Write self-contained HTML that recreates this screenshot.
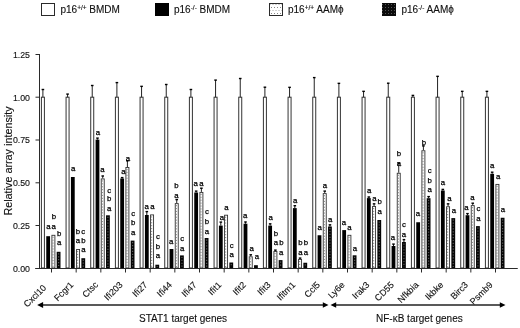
<!DOCTYPE html>
<html><head><meta charset="utf-8"><style>
html,body{margin:0;padding:0;background:#fff;}
svg{display:block;filter:blur(0.3px);}
text{font-family:"Liberation Sans",sans-serif;fill:#111;stroke:#111;stroke-width:0.12px;}
.L{fill:#000;stroke:#000;stroke-width:0.25px;}
</style></head><body>
<svg width="520" height="328" viewBox="0 0 520 328">
<defs>
<pattern id="pl" width="3" height="3" patternUnits="userSpaceOnUse">
<rect width="3" height="3" fill="#f2f2f2"/><rect x="0" y="0" width="1" height="1" fill="#7a7a7a"/><rect x="1.5" y="1.5" width="1" height="1" fill="#7a7a7a"/>
</pattern>
<pattern id="plg" x="0" y="0" width="3" height="6" patternUnits="userSpaceOnUse">
<rect width="3" height="6" fill="#fff"/><rect x="1" y="1" width="1" height="1" fill="#888"/><rect x="2.5" y="4" width="1" height="1" fill="#aaa"/><rect x="-0.5" y="4" width="1" height="1" fill="#aaa"/>
</pattern>
<pattern id="pd" width="3" height="3" patternUnits="userSpaceOnUse">
<rect width="3" height="3" fill="#0a0a0a"/><rect x="1" y="1" width="1" height="1" fill="#555"/>
</pattern>
</defs>
<rect width="520" height="328" fill="#fff"/>

<rect x="41.5" y="3.5" width="13" height="12" fill="#fff" stroke="#2a2a2a" stroke-width="1"/>
<rect x="155" y="3" width="14" height="13" fill="#000"/>
<rect x="269.5" y="3.5" width="13" height="12" fill="url(#plg)" stroke="#2a2a2a" stroke-width="1"/>
<rect x="382" y="3" width="14" height="13" fill="url(#pd)"/>
<text x="60.5" y="12.5" font-size="10">p16<tspan font-size="6.5" dy="-3.0">+/+</tspan><tspan dy="3.0"> BMDM</tspan></text>
<text x="174" y="12.5" font-size="10">p16<tspan font-size="6.5" dy="-3.0">-/-</tspan><tspan dy="3.0"> BMDM</tspan></text>
<text x="288" y="12.5" font-size="10">p16<tspan font-size="6.5" dy="-3.0">+/+</tspan><tspan dy="3.0"> AAMϕ</tspan></text>
<text x="401.5" y="12.5" font-size="10">p16<tspan font-size="6.5" dy="-3.0">-/-</tspan><tspan dy="3.0"> AAMϕ</tspan></text>
<path d="M39.5 54 V268.5 M517.5 268.5 H35.5" stroke="#2a2a2a" stroke-width="1" fill="none"/>
<path d="M35.5 268.5 H39.5" stroke="#2a2a2a" stroke-width="1"/>
<text x="30" y="271.7" font-size="8.8" text-anchor="end">0.00</text>
<path d="M35.5 225.5 H39.5" stroke="#2a2a2a" stroke-width="1"/>
<text x="30" y="228.9" font-size="8.8" text-anchor="end">0.25</text>
<path d="M35.5 182.8 H39.5" stroke="#2a2a2a" stroke-width="1"/>
<text x="30" y="186.1" font-size="8.8" text-anchor="end">0.50</text>
<path d="M35.5 140.0 H39.5" stroke="#2a2a2a" stroke-width="1"/>
<text x="30" y="143.3" font-size="8.8" text-anchor="end">0.75</text>
<path d="M35.5 97.2 H39.5" stroke="#2a2a2a" stroke-width="1"/>
<text x="30" y="100.5" font-size="8.8" text-anchor="end">1.00</text>
<path d="M35.5 54.5 H39.5" stroke="#2a2a2a" stroke-width="1"/>
<text x="30" y="57.7" font-size="8.8" text-anchor="end">1.25</text>
<text transform="translate(12.4,161) rotate(-90)" font-size="10.8" text-anchor="middle">Relative array intensity</text>
<path d="M51.50 268.5 V272.5" stroke="#2a2a2a" stroke-width="1"/>
<rect x="41.40" y="97.20" width="3" height="170.80" fill="#fff" stroke="#333" stroke-width="1"/>
<path d="M42.90 97.20 V89.40" stroke="#222" stroke-width="1"/><path d="M41.60 89.50 H44.20" stroke="#000" stroke-width="1.4"/>
<rect x="46.25" y="236.20" width="3.8" height="31.80" fill="#000"/>
<rect x="51.90" y="235.30" width="3" height="32.70" fill="#fcfcfc" stroke="#333" stroke-width="0.9"/>
<path d="M53.00 236.80 V268" stroke="#707070" stroke-width="0.9" stroke-dasharray="1.1 1.8"/>
<rect x="56.70" y="251.80" width="3.8" height="16.20" fill="#050505"/>
<path d="M58.60 253.30 V267" stroke="#5a5a5a" stroke-width="1.2" stroke-dasharray="1.2 1.7"/>
<path d="M76.17 268.5 V272.5" stroke="#2a2a2a" stroke-width="1"/>
<rect x="66.07" y="97.20" width="3" height="170.80" fill="#fff" stroke="#333" stroke-width="1"/>
<path d="M67.57 97.20 V94.00" stroke="#222" stroke-width="1"/><path d="M66.27 94.10 H68.87" stroke="#000" stroke-width="1.4"/>
<rect x="70.92" y="177.00" width="3.8" height="91.00" fill="#000"/>
<rect x="76.57" y="249.50" width="3" height="18.50" fill="#fcfcfc" stroke="#333" stroke-width="0.9"/>
<path d="M77.67 251.00 V268" stroke="#707070" stroke-width="0.9" stroke-dasharray="1.1 1.8"/>
<rect x="81.37" y="258.20" width="3.8" height="9.80" fill="#050505"/>
<path d="M83.27 259.70 V267" stroke="#5a5a5a" stroke-width="1.2" stroke-dasharray="1.2 1.7"/>
<path d="M100.83 268.5 V272.5" stroke="#2a2a2a" stroke-width="1"/>
<rect x="90.73" y="97.20" width="3" height="170.80" fill="#fff" stroke="#333" stroke-width="1"/>
<path d="M92.23 97.20 V85.40" stroke="#222" stroke-width="1"/><path d="M90.93 85.50 H93.53" stroke="#000" stroke-width="1.4"/>
<path d="M97.48 139.60 V138.00" stroke="#111" stroke-width="1"/><path d="M96.18 138.10 H98.78" stroke="#000" stroke-width="1.4"/>
<rect x="95.58" y="139.60" width="3.8" height="128.40" fill="#000"/>
<path d="M102.73 178.40 V175.90" stroke="#222" stroke-width="1"/><path d="M101.43 176.00 H104.03" stroke="#000" stroke-width="1.4"/>
<rect x="101.23" y="178.90" width="3" height="89.10" fill="#fcfcfc" stroke="#333" stroke-width="0.9"/>
<path d="M102.33 180.40 V268" stroke="#707070" stroke-width="0.9" stroke-dasharray="1.1 1.8"/>
<rect x="106.03" y="215.30" width="3.8" height="52.70" fill="#050505"/>
<path d="M107.93 216.80 V267" stroke="#5a5a5a" stroke-width="1.2" stroke-dasharray="1.2 1.7"/>
<path d="M125.50 268.5 V272.5" stroke="#2a2a2a" stroke-width="1"/>
<rect x="115.40" y="97.20" width="3" height="170.80" fill="#fff" stroke="#333" stroke-width="1"/>
<path d="M116.90 97.20 V82.50" stroke="#222" stroke-width="1"/><path d="M115.60 82.60 H118.20" stroke="#000" stroke-width="1.4"/>
<path d="M122.15 178.50 V177.50" stroke="#111" stroke-width="1"/><path d="M120.85 177.60 H123.45" stroke="#000" stroke-width="1.4"/>
<rect x="120.25" y="178.50" width="3.8" height="89.50" fill="#000"/>
<path d="M127.40 167.00 V160.70" stroke="#222" stroke-width="1"/><path d="M126.10 160.80 H128.70" stroke="#000" stroke-width="1.4"/>
<rect x="125.90" y="167.50" width="3" height="100.50" fill="#fcfcfc" stroke="#333" stroke-width="0.9"/>
<path d="M127.00 169.00 V268" stroke="#707070" stroke-width="0.9" stroke-dasharray="1.1 1.8"/>
<rect x="130.70" y="240.60" width="3.8" height="27.40" fill="#050505"/>
<path d="M132.60 242.10 V267" stroke="#5a5a5a" stroke-width="1.2" stroke-dasharray="1.2 1.7"/>
<path d="M150.17 268.5 V272.5" stroke="#2a2a2a" stroke-width="1"/>
<rect x="140.07" y="97.20" width="3" height="170.80" fill="#fff" stroke="#333" stroke-width="1"/>
<path d="M141.57 97.20 V86.25" stroke="#222" stroke-width="1"/><path d="M140.27 86.35 H142.87" stroke="#000" stroke-width="1.4"/>
<path d="M146.82 215.00 V211.50" stroke="#111" stroke-width="1"/><path d="M145.52 211.60 H148.12" stroke="#000" stroke-width="1.4"/>
<rect x="144.92" y="215.00" width="3.8" height="53.00" fill="#000"/>
<rect x="150.57" y="214.90" width="3" height="53.10" fill="#fcfcfc" stroke="#333" stroke-width="0.9"/>
<path d="M151.67 216.40 V268" stroke="#707070" stroke-width="0.9" stroke-dasharray="1.1 1.8"/>
<rect x="155.37" y="264.70" width="3.8" height="3.30" fill="#050505"/>
<path d="M157.27 266.20 V267" stroke="#5a5a5a" stroke-width="1.2" stroke-dasharray="1.2 1.7"/>
<path d="M174.84 268.5 V272.5" stroke="#2a2a2a" stroke-width="1"/>
<rect x="164.74" y="97.20" width="3" height="170.80" fill="#fff" stroke="#333" stroke-width="1"/>
<path d="M166.24 97.20 V84.40" stroke="#222" stroke-width="1"/><path d="M164.94 84.50 H167.54" stroke="#000" stroke-width="1.4"/>
<rect x="169.59" y="249.00" width="3.8" height="19.00" fill="#000"/>
<path d="M176.74 203.10 V199.50" stroke="#222" stroke-width="1"/><path d="M175.44 199.60 H178.04" stroke="#000" stroke-width="1.4"/>
<rect x="175.24" y="203.60" width="3" height="64.40" fill="#fcfcfc" stroke="#333" stroke-width="0.9"/>
<path d="M176.34 205.10 V268" stroke="#707070" stroke-width="0.9" stroke-dasharray="1.1 1.8"/>
<rect x="180.03" y="255.40" width="3.8" height="12.60" fill="#050505"/>
<path d="M181.94 256.90 V267" stroke="#5a5a5a" stroke-width="1.2" stroke-dasharray="1.2 1.7"/>
<path d="M199.50 268.5 V272.5" stroke="#2a2a2a" stroke-width="1"/>
<rect x="189.40" y="97.20" width="3" height="170.80" fill="#fff" stroke="#333" stroke-width="1"/>
<path d="M190.90 97.20 V89.40" stroke="#222" stroke-width="1"/><path d="M189.60 89.50 H192.20" stroke="#000" stroke-width="1.4"/>
<path d="M196.15 192.50 V191.00" stroke="#111" stroke-width="1"/><path d="M194.85 191.10 H197.45" stroke="#000" stroke-width="1.4"/>
<rect x="194.25" y="192.50" width="3.8" height="75.50" fill="#000"/>
<path d="M201.40 191.90 V188.10" stroke="#222" stroke-width="1"/><path d="M200.10 188.20 H202.70" stroke="#000" stroke-width="1.4"/>
<rect x="199.90" y="192.40" width="3" height="75.60" fill="#fcfcfc" stroke="#333" stroke-width="0.9"/>
<path d="M201.00 193.90 V268" stroke="#707070" stroke-width="0.9" stroke-dasharray="1.1 1.8"/>
<rect x="204.70" y="238.00" width="3.8" height="30.00" fill="#050505"/>
<path d="M206.60 239.50 V267" stroke="#5a5a5a" stroke-width="1.2" stroke-dasharray="1.2 1.7"/>
<path d="M224.17 268.5 V272.5" stroke="#2a2a2a" stroke-width="1"/>
<rect x="214.07" y="97.20" width="3" height="170.80" fill="#fff" stroke="#333" stroke-width="1"/>
<path d="M215.57 97.20 V80.00" stroke="#222" stroke-width="1"/><path d="M214.27 80.10 H216.87" stroke="#000" stroke-width="1.4"/>
<path d="M220.82 225.60 V222.00" stroke="#111" stroke-width="1"/><path d="M219.52 222.10 H222.12" stroke="#000" stroke-width="1.4"/>
<rect x="218.92" y="225.60" width="3.8" height="42.40" fill="#000"/>
<rect x="224.57" y="215.20" width="3" height="52.80" fill="#fcfcfc" stroke="#333" stroke-width="0.9"/>
<path d="M225.67 216.70 V268" stroke="#707070" stroke-width="0.9" stroke-dasharray="1.1 1.8"/>
<rect x="229.37" y="262.50" width="3.8" height="5.50" fill="#050505"/>
<path d="M231.27 264.00 V267" stroke="#5a5a5a" stroke-width="1.2" stroke-dasharray="1.2 1.7"/>
<path d="M248.84 268.5 V272.5" stroke="#2a2a2a" stroke-width="1"/>
<rect x="238.74" y="97.20" width="3" height="170.80" fill="#fff" stroke="#333" stroke-width="1"/>
<path d="M240.24 97.20 V78.40" stroke="#222" stroke-width="1"/><path d="M238.94 78.50 H241.54" stroke="#000" stroke-width="1.4"/>
<path d="M245.49 223.70 V221.90" stroke="#111" stroke-width="1"/><path d="M244.19 222.00 H246.79" stroke="#000" stroke-width="1.4"/>
<rect x="243.59" y="223.70" width="3.8" height="44.30" fill="#000"/>
<path d="M250.74 256.30 V254.70" stroke="#222" stroke-width="1"/><path d="M249.44 254.80 H252.04" stroke="#000" stroke-width="1.4"/>
<rect x="249.24" y="256.80" width="3" height="11.20" fill="#fcfcfc" stroke="#333" stroke-width="0.9"/>
<path d="M250.34 258.30 V268" stroke="#707070" stroke-width="0.9" stroke-dasharray="1.1 1.8"/>
<rect x="254.04" y="265.20" width="3.8" height="2.80" fill="#050505"/>
<path d="M273.50 268.5 V272.5" stroke="#2a2a2a" stroke-width="1"/>
<rect x="263.40" y="97.20" width="3" height="170.80" fill="#fff" stroke="#333" stroke-width="1"/>
<path d="M264.90 97.20 V87.10" stroke="#222" stroke-width="1"/><path d="M263.60 87.20 H266.20" stroke="#000" stroke-width="1.4"/>
<path d="M270.15 225.60 V223.75" stroke="#111" stroke-width="1"/><path d="M268.85 223.85 H271.45" stroke="#000" stroke-width="1.4"/>
<rect x="268.25" y="225.60" width="3.8" height="42.40" fill="#000"/>
<path d="M275.40 251.00 V250.00" stroke="#222" stroke-width="1"/><path d="M274.10 250.10 H276.70" stroke="#000" stroke-width="1.4"/>
<rect x="273.90" y="251.50" width="3" height="16.50" fill="#fcfcfc" stroke="#333" stroke-width="0.9"/>
<path d="M275.00 253.00 V268" stroke="#707070" stroke-width="0.9" stroke-dasharray="1.1 1.8"/>
<rect x="278.70" y="260.10" width="3.8" height="7.90" fill="#050505"/>
<path d="M280.60 261.60 V267" stroke="#5a5a5a" stroke-width="1.2" stroke-dasharray="1.2 1.7"/>
<path d="M298.17 268.5 V272.5" stroke="#2a2a2a" stroke-width="1"/>
<rect x="288.07" y="97.20" width="3" height="170.80" fill="#fff" stroke="#333" stroke-width="1"/>
<path d="M289.57 97.20 V87.25" stroke="#222" stroke-width="1"/><path d="M288.27 87.35 H290.87" stroke="#000" stroke-width="1.4"/>
<path d="M294.82 208.10 V205.60" stroke="#111" stroke-width="1"/><path d="M293.52 205.70 H296.12" stroke="#000" stroke-width="1.4"/>
<rect x="292.92" y="208.10" width="3.8" height="59.90" fill="#000"/>
<path d="M300.07 259.00 V258.00" stroke="#222" stroke-width="1"/><path d="M298.77 258.10 H301.37" stroke="#000" stroke-width="1.4"/>
<rect x="298.57" y="259.50" width="3" height="8.50" fill="#fcfcfc" stroke="#333" stroke-width="0.9"/>
<path d="M299.67 261.00 V268" stroke="#707070" stroke-width="0.9" stroke-dasharray="1.1 1.8"/>
<rect x="303.37" y="262.75" width="3.8" height="5.25" fill="#050505"/>
<path d="M305.27 264.25 V267" stroke="#5a5a5a" stroke-width="1.2" stroke-dasharray="1.2 1.7"/>
<path d="M322.84 268.5 V272.5" stroke="#2a2a2a" stroke-width="1"/>
<rect x="312.74" y="97.20" width="3" height="170.80" fill="#fff" stroke="#333" stroke-width="1"/>
<path d="M314.24 97.20 V77.50" stroke="#222" stroke-width="1"/><path d="M312.94 77.60 H315.54" stroke="#000" stroke-width="1.4"/>
<rect x="317.59" y="235.25" width="3.8" height="32.75" fill="#000"/>
<path d="M324.74 193.10 V191.00" stroke="#222" stroke-width="1"/><path d="M323.44 191.10 H326.04" stroke="#000" stroke-width="1.4"/>
<rect x="323.24" y="193.60" width="3" height="74.40" fill="#fcfcfc" stroke="#333" stroke-width="0.9"/>
<path d="M324.34 195.10 V268" stroke="#707070" stroke-width="0.9" stroke-dasharray="1.1 1.8"/>
<path d="M329.94 226.50 V224.75" stroke="#111" stroke-width="1"/><path d="M328.64 224.85 H331.24" stroke="#000" stroke-width="1.4"/>
<rect x="328.04" y="226.50" width="3.8" height="41.50" fill="#050505"/>
<path d="M329.94 228.00 V267" stroke="#5a5a5a" stroke-width="1.2" stroke-dasharray="1.2 1.7"/>
<path d="M347.50 268.5 V272.5" stroke="#2a2a2a" stroke-width="1"/>
<rect x="337.40" y="97.20" width="3" height="170.80" fill="#fff" stroke="#333" stroke-width="1"/>
<path d="M338.90 97.20 V83.25" stroke="#222" stroke-width="1"/><path d="M337.60 83.35 H340.20" stroke="#000" stroke-width="1.4"/>
<rect x="342.25" y="230.10" width="3.8" height="37.90" fill="#000"/>
<rect x="347.90" y="235.30" width="3" height="32.70" fill="#fcfcfc" stroke="#333" stroke-width="0.9"/>
<path d="M349.00 236.80 V268" stroke="#707070" stroke-width="0.9" stroke-dasharray="1.1 1.8"/>
<rect x="352.70" y="255.30" width="3.8" height="12.70" fill="#050505"/>
<path d="M354.60 256.80 V267" stroke="#5a5a5a" stroke-width="1.2" stroke-dasharray="1.2 1.7"/>
<path d="M372.17 268.5 V272.5" stroke="#2a2a2a" stroke-width="1"/>
<rect x="362.07" y="97.20" width="3" height="170.80" fill="#fff" stroke="#333" stroke-width="1"/>
<path d="M363.57 97.20 V91.25" stroke="#222" stroke-width="1"/><path d="M362.27 91.35 H364.87" stroke="#000" stroke-width="1.4"/>
<path d="M368.82 198.10 V196.90" stroke="#111" stroke-width="1"/><path d="M367.52 197.00 H370.12" stroke="#000" stroke-width="1.4"/>
<rect x="366.92" y="198.10" width="3.8" height="69.90" fill="#000"/>
<path d="M374.07 206.00 V203.75" stroke="#222" stroke-width="1"/><path d="M372.77 203.85 H375.37" stroke="#000" stroke-width="1.4"/>
<rect x="372.57" y="206.50" width="3" height="61.50" fill="#fcfcfc" stroke="#333" stroke-width="0.9"/>
<path d="M373.67 208.00 V268" stroke="#707070" stroke-width="0.9" stroke-dasharray="1.1 1.8"/>
<rect x="377.37" y="220.00" width="3.8" height="48.00" fill="#050505"/>
<path d="M379.27 221.50 V267" stroke="#5a5a5a" stroke-width="1.2" stroke-dasharray="1.2 1.7"/>
<path d="M396.84 268.5 V272.5" stroke="#2a2a2a" stroke-width="1"/>
<rect x="386.74" y="97.20" width="3" height="170.80" fill="#fff" stroke="#333" stroke-width="1"/>
<path d="M388.24 97.20 V83.10" stroke="#222" stroke-width="1"/><path d="M386.94 83.20 H389.54" stroke="#000" stroke-width="1.4"/>
<path d="M393.49 246.00 V244.00" stroke="#111" stroke-width="1"/><path d="M392.19 244.10 H394.79" stroke="#000" stroke-width="1.4"/>
<rect x="391.59" y="246.00" width="3.8" height="22.00" fill="#000"/>
<path d="M398.74 172.75 V163.00" stroke="#222" stroke-width="1"/><path d="M397.44 163.10 H400.04" stroke="#000" stroke-width="1.4"/>
<rect x="397.24" y="173.25" width="3" height="94.75" fill="#fcfcfc" stroke="#333" stroke-width="0.9"/>
<path d="M398.34 174.75 V268" stroke="#707070" stroke-width="0.9" stroke-dasharray="1.1 1.8"/>
<path d="M403.94 242.00 V239.50" stroke="#111" stroke-width="1"/><path d="M402.64 239.60 H405.24" stroke="#000" stroke-width="1.4"/>
<rect x="402.04" y="242.00" width="3.8" height="26.00" fill="#050505"/>
<path d="M403.94 243.50 V267" stroke="#5a5a5a" stroke-width="1.2" stroke-dasharray="1.2 1.7"/>
<path d="M421.50 268.5 V272.5" stroke="#2a2a2a" stroke-width="1"/>
<rect x="411.40" y="97.20" width="3" height="170.80" fill="#fff" stroke="#333" stroke-width="1"/>
<path d="M412.90 97.20 V95.30" stroke="#222" stroke-width="1"/><path d="M411.60 95.40 H414.20" stroke="#000" stroke-width="1.4"/>
<rect x="416.25" y="222.25" width="3.8" height="45.75" fill="#000"/>
<path d="M423.40 150.25 V145.80" stroke="#222" stroke-width="1"/><path d="M422.10 145.90 H424.70" stroke="#000" stroke-width="1.4"/>
<rect x="421.90" y="150.75" width="3" height="117.25" fill="#fcfcfc" stroke="#333" stroke-width="0.9"/>
<path d="M423.00 152.25 V268" stroke="#707070" stroke-width="0.9" stroke-dasharray="1.1 1.8"/>
<path d="M428.61 198.20 V196.50" stroke="#111" stroke-width="1"/><path d="M427.31 196.60 H429.91" stroke="#000" stroke-width="1.4"/>
<rect x="426.71" y="198.20" width="3.8" height="69.80" fill="#050505"/>
<path d="M428.61 199.70 V267" stroke="#5a5a5a" stroke-width="1.2" stroke-dasharray="1.2 1.7"/>
<path d="M446.17 268.5 V272.5" stroke="#2a2a2a" stroke-width="1"/>
<rect x="436.07" y="97.20" width="3" height="170.80" fill="#fff" stroke="#333" stroke-width="1"/>
<path d="M437.57 97.20 V76.25" stroke="#222" stroke-width="1"/><path d="M436.27 76.35 H438.87" stroke="#000" stroke-width="1.4"/>
<path d="M442.82 190.50 V189.30" stroke="#111" stroke-width="1"/><path d="M441.52 189.40 H444.12" stroke="#000" stroke-width="1.4"/>
<rect x="440.92" y="190.50" width="3.8" height="77.50" fill="#000"/>
<path d="M448.07 206.25 V203.75" stroke="#222" stroke-width="1"/><path d="M446.77 203.85 H449.37" stroke="#000" stroke-width="1.4"/>
<rect x="446.57" y="206.75" width="3" height="61.25" fill="#fcfcfc" stroke="#333" stroke-width="0.9"/>
<path d="M447.67 208.25 V268" stroke="#707070" stroke-width="0.9" stroke-dasharray="1.1 1.8"/>
<rect x="451.37" y="218.10" width="3.8" height="49.90" fill="#050505"/>
<path d="M453.27 219.60 V267" stroke="#5a5a5a" stroke-width="1.2" stroke-dasharray="1.2 1.7"/>
<path d="M470.84 268.5 V272.5" stroke="#2a2a2a" stroke-width="1"/>
<rect x="460.74" y="97.20" width="3" height="170.80" fill="#fff" stroke="#333" stroke-width="1"/>
<path d="M462.24 97.20 V91.25" stroke="#222" stroke-width="1"/><path d="M460.94 91.35 H463.54" stroke="#000" stroke-width="1.4"/>
<path d="M467.49 215.20 V213.50" stroke="#111" stroke-width="1"/><path d="M466.19 213.60 H468.79" stroke="#000" stroke-width="1.4"/>
<rect x="465.59" y="215.20" width="3.8" height="52.80" fill="#000"/>
<path d="M472.74 205.10 V203.10" stroke="#222" stroke-width="1"/><path d="M471.44 203.20 H474.04" stroke="#000" stroke-width="1.4"/>
<rect x="471.24" y="205.60" width="3" height="62.40" fill="#fcfcfc" stroke="#333" stroke-width="0.9"/>
<path d="M472.34 207.10 V268" stroke="#707070" stroke-width="0.9" stroke-dasharray="1.1 1.8"/>
<rect x="476.04" y="226.10" width="3.8" height="41.90" fill="#050505"/>
<path d="M477.94 227.60 V267" stroke="#5a5a5a" stroke-width="1.2" stroke-dasharray="1.2 1.7"/>
<path d="M495.51 268.5 V272.5" stroke="#2a2a2a" stroke-width="1"/>
<rect x="485.41" y="97.20" width="3" height="170.80" fill="#fff" stroke="#333" stroke-width="1"/>
<path d="M486.91 97.20 V91.25" stroke="#222" stroke-width="1"/><path d="M485.61 91.35 H488.21" stroke="#000" stroke-width="1.4"/>
<path d="M492.16 173.80 V172.10" stroke="#111" stroke-width="1"/><path d="M490.86 172.20 H493.46" stroke="#000" stroke-width="1.4"/>
<rect x="490.26" y="173.80" width="3.8" height="94.20" fill="#000"/>
<rect x="495.91" y="184.40" width="3" height="83.60" fill="#fcfcfc" stroke="#333" stroke-width="0.9"/>
<path d="M497.01 185.90 V268" stroke="#707070" stroke-width="0.9" stroke-dasharray="1.1 1.8"/>
<rect x="500.71" y="217.75" width="3.8" height="50.25" fill="#050505"/>
<path d="M502.61 219.25 V267" stroke="#5a5a5a" stroke-width="1.2" stroke-dasharray="1.2 1.7"/>
<path d="M35.5 268.5 H517.5" stroke="#2a2a2a" stroke-width="1"/>
<text class="L" x="48.5" y="228.80" font-size="7.8" text-anchor="middle">a</text>
<text class="L" x="53.7" y="228.80" font-size="7.8" text-anchor="middle">a</text>
<text class="L" x="53.9" y="218.90" font-size="7.8" text-anchor="middle">b</text>
<text class="L" x="59.2" y="235.60" font-size="7.8" text-anchor="middle">b</text>
<text class="L" x="59.2" y="245.40" font-size="7.8" text-anchor="middle">a</text>
<text class="L" x="73.1" y="171.40" font-size="7.8" text-anchor="middle">a</text>
<text class="L" x="78.0" y="233.95" font-size="7.8" text-anchor="middle">b</text>
<text class="L" x="83.3" y="233.95" font-size="7.8" text-anchor="middle">c</text>
<text class="L" x="78.0" y="242.95" font-size="7.8" text-anchor="middle">a</text>
<text class="L" x="83.3" y="242.95" font-size="7.8" text-anchor="middle">b</text>
<text class="L" x="83.5" y="252.30" font-size="7.8" text-anchor="middle">a</text>
<text class="L" x="97.9" y="134.60" font-size="7.8" text-anchor="middle">a</text>
<text class="L" x="102.3" y="172.20" font-size="7.8" text-anchor="middle">a</text>
<text class="L" x="109.1" y="192.90" font-size="7.8" text-anchor="middle">c</text>
<text class="L" x="109.1" y="201.20" font-size="7.8" text-anchor="middle">b</text>
<text class="L" x="109.1" y="211.20" font-size="7.8" text-anchor="middle">a</text>
<text class="L" x="123.4" y="173.70" font-size="7.8" text-anchor="middle">a</text>
<text class="L" x="128.0" y="161.20" font-size="7.8" text-anchor="middle">a</text>
<text class="L" x="133.25" y="215.80" font-size="7.8" text-anchor="middle">c</text>
<text class="L" x="133.25" y="225.20" font-size="7.8" text-anchor="middle">b</text>
<text class="L" x="133.25" y="234.60" font-size="7.8" text-anchor="middle">a</text>
<text class="L" x="146.6" y="208.95" font-size="7.8" text-anchor="middle">a</text>
<text class="L" x="152.4" y="208.95" font-size="7.8" text-anchor="middle">a</text>
<text class="L" x="158.0" y="239.20" font-size="7.8" text-anchor="middle">c</text>
<text class="L" x="158.0" y="248.50" font-size="7.8" text-anchor="middle">b</text>
<text class="L" x="158.0" y="258.10" font-size="7.8" text-anchor="middle">a</text>
<text class="L" x="171.25" y="243.70" font-size="7.8" text-anchor="middle">a</text>
<text class="L" x="176.4" y="187.70" font-size="7.8" text-anchor="middle">b</text>
<text class="L" x="176.4" y="197.95" font-size="7.8" text-anchor="middle">a</text>
<text class="L" x="182.2" y="241.00" font-size="7.8" text-anchor="middle">c</text>
<text class="L" x="182.2" y="250.50" font-size="7.8" text-anchor="middle">a</text>
<text class="L" x="195.6" y="186.45" font-size="7.8" text-anchor="middle">a</text>
<text class="L" x="201.5" y="186.45" font-size="7.8" text-anchor="middle">a</text>
<text class="L" x="207.0" y="214.20" font-size="7.8" text-anchor="middle">c</text>
<text class="L" x="207.0" y="224.00" font-size="7.8" text-anchor="middle">b</text>
<text class="L" x="207.0" y="233.80" font-size="7.8" text-anchor="middle">a</text>
<text class="L" x="221.8" y="219.70" font-size="7.8" text-anchor="middle">a</text>
<text class="L" x="226.4" y="209.70" font-size="7.8" text-anchor="middle">a</text>
<text class="L" x="231.7" y="247.95" font-size="7.8" text-anchor="middle">c</text>
<text class="L" x="231.7" y="257.30" font-size="7.8" text-anchor="middle">a</text>
<text class="L" x="245.2" y="217.50" font-size="7.8" text-anchor="middle">a</text>
<text class="L" x="251.6" y="250.70" font-size="7.8" text-anchor="middle">a</text>
<text class="L" x="256.9" y="259.20" font-size="7.8" text-anchor="middle">a</text>
<text class="L" x="270.7" y="219.95" font-size="7.8" text-anchor="middle">a</text>
<text class="L" x="276.0" y="235.80" font-size="7.8" text-anchor="middle">b</text>
<text class="L" x="275.9" y="245.30" font-size="7.8" text-anchor="middle">a</text>
<text class="L" x="281.4" y="245.30" font-size="7.8" text-anchor="middle">b</text>
<text class="L" x="281.25" y="254.90" font-size="7.8" text-anchor="middle">a</text>
<text class="L" x="295.25" y="203.30" font-size="7.8" text-anchor="middle">a</text>
<text class="L" x="300.4" y="244.80" font-size="7.8" text-anchor="middle">b</text>
<text class="L" x="305.9" y="244.80" font-size="7.8" text-anchor="middle">b</text>
<text class="L" x="300.4" y="254.80" font-size="7.8" text-anchor="middle">a</text>
<text class="L" x="305.9" y="254.80" font-size="7.8" text-anchor="middle">a</text>
<text class="L" x="319.6" y="229.60" font-size="7.8" text-anchor="middle">a</text>
<text class="L" x="324.9" y="187.70" font-size="7.8" text-anchor="middle">a</text>
<text class="L" x="330.2" y="222.10" font-size="7.8" text-anchor="middle">a</text>
<text class="L" x="344.0" y="224.90" font-size="7.8" text-anchor="middle">a</text>
<text class="L" x="349.5" y="230.00" font-size="7.8" text-anchor="middle">a</text>
<text class="L" x="354.8" y="250.80" font-size="7.8" text-anchor="middle">a</text>
<text class="L" x="369.1" y="192.70" font-size="7.8" text-anchor="middle">a</text>
<text class="L" x="374.3" y="200.80" font-size="7.8" text-anchor="middle">a</text>
<text class="L" x="379.7" y="203.95" font-size="7.8" text-anchor="middle">b</text>
<text class="L" x="379.7" y="213.70" font-size="7.8" text-anchor="middle">a</text>
<text class="L" x="393.0" y="240.20" font-size="7.8" text-anchor="middle">a</text>
<text class="L" x="398.9" y="155.80" font-size="7.8" text-anchor="middle">b</text>
<text class="L" x="398.9" y="165.80" font-size="7.8" text-anchor="middle">a</text>
<text class="L" x="403.9" y="227.00" font-size="7.8" text-anchor="middle">c</text>
<text class="L" x="403.9" y="236.80" font-size="7.8" text-anchor="middle">a</text>
<text class="L" x="417.9" y="216.45" font-size="7.8" text-anchor="middle">a</text>
<text class="L" x="424.0" y="145.20" font-size="7.8" text-anchor="middle">b</text>
<text class="L" x="429.6" y="172.70" font-size="7.8" text-anchor="middle">c</text>
<text class="L" x="429.6" y="182.80" font-size="7.8" text-anchor="middle">b</text>
<text class="L" x="429.6" y="192.00" font-size="7.8" text-anchor="middle">a</text>
<text class="L" x="443.0" y="185.30" font-size="7.8" text-anchor="middle">a</text>
<text class="L" x="449.4" y="201.45" font-size="7.8" text-anchor="middle">a</text>
<text class="L" x="454.0" y="212.95" font-size="7.8" text-anchor="middle">a</text>
<text class="L" x="466.4" y="210.00" font-size="7.8" text-anchor="middle">a</text>
<text class="L" x="472.4" y="199.90" font-size="7.8" text-anchor="middle">a</text>
<text class="L" x="478.5" y="211.20" font-size="7.8" text-anchor="middle">c</text>
<text class="L" x="478.5" y="221.20" font-size="7.8" text-anchor="middle">a</text>
<text class="L" x="492.2" y="168.30" font-size="7.8" text-anchor="middle">a</text>
<text class="L" x="498.2" y="178.70" font-size="7.8" text-anchor="middle">a</text>
<text class="L" x="503.0" y="212.45" font-size="7.8" text-anchor="middle">a</text>
<text transform="translate(46.80,288.40) rotate(-45)" font-size="9" text-anchor="end">Cxcl10</text>
<text transform="translate(73.97,285.40) rotate(-45)" font-size="9" text-anchor="end">Fcgr1</text>
<text transform="translate(98.63,285.40) rotate(-45)" font-size="9" text-anchor="end">Ctsc</text>
<text transform="translate(123.30,285.40) rotate(-45)" font-size="9" text-anchor="end">Ifi203</text>
<text transform="translate(147.97,285.40) rotate(-45)" font-size="9" text-anchor="end">Ifi27</text>
<text transform="translate(172.64,285.40) rotate(-45)" font-size="9" text-anchor="end">Ifi44</text>
<text transform="translate(197.30,285.40) rotate(-45)" font-size="9" text-anchor="end">Ifi47</text>
<text transform="translate(221.97,285.40) rotate(-45)" font-size="9" text-anchor="end">Ifit1</text>
<text transform="translate(246.64,285.40) rotate(-45)" font-size="9" text-anchor="end">Ifit2</text>
<text transform="translate(271.30,285.40) rotate(-45)" font-size="9" text-anchor="end">Ifit3</text>
<text transform="translate(295.97,285.40) rotate(-45)" font-size="9" text-anchor="end">Ifitm1</text>
<text transform="translate(320.64,285.40) rotate(-45)" font-size="9" text-anchor="end">Ccl5</text>
<text transform="translate(345.30,285.40) rotate(-45)" font-size="9" text-anchor="end">Ly6e</text>
<text transform="translate(369.97,285.40) rotate(-45)" font-size="9" text-anchor="end">Irak3</text>
<text transform="translate(394.64,285.40) rotate(-45)" font-size="9" text-anchor="end">CD55</text>
<text transform="translate(419.31,285.40) rotate(-45)" font-size="9" text-anchor="end">Nfkbia</text>
<text transform="translate(443.97,285.40) rotate(-45)" font-size="9" text-anchor="end">Ikbke</text>
<text transform="translate(468.64,285.40) rotate(-45)" font-size="9" text-anchor="end">Birc3</text>
<text transform="translate(493.31,285.40) rotate(-45)" font-size="9" text-anchor="end">Psmb9</text>
<path d="M42 305 H324" stroke="#222" stroke-width="1.3"/>
<path d="M37.1 305 L43.1 302.1 L43.1 307.9 Z" fill="#000"/>
<path d="M328.5 305 L322.8 302.2 L322.8 307.8 Z" fill="#000"/>
<path d="M335 305 H501" stroke="#222" stroke-width="1.3"/>
<path d="M330.5 305 L336.2 302.2 L336.2 307.8 Z" fill="#000"/>
<path d="M505.5 305 L499.8 302.2 L499.8 307.8 Z" fill="#000"/>
<text x="139" y="322" font-size="10">STAT1 target genes</text>
<text x="376" y="322" font-size="10">NF-κB target genes</text>
</svg></body></html>
